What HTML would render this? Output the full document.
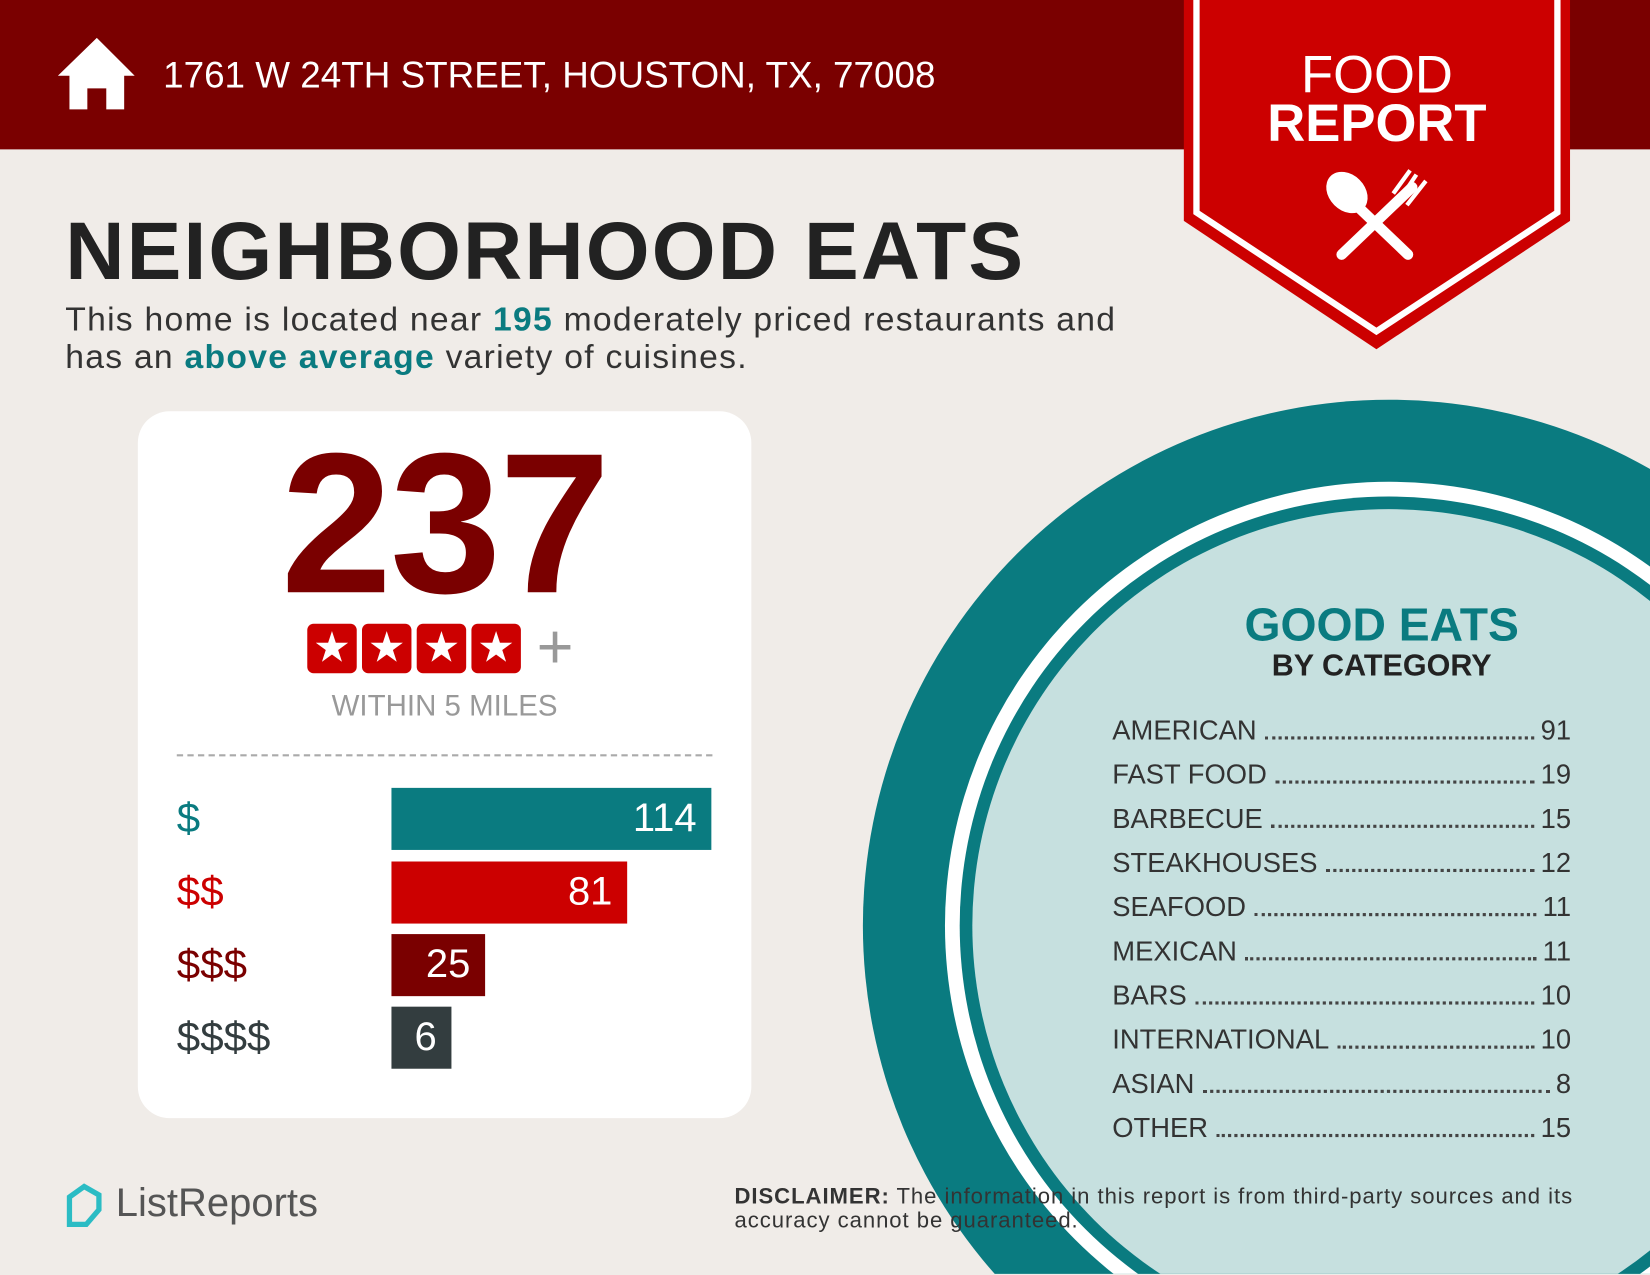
<!DOCTYPE html>
<html><head><meta charset="utf-8">
<style>
html,body{margin:0;padding:0;width:1650px;height:1275px;overflow:hidden;background:#f0ece8;}
#w{position:absolute;left:0;top:0;width:1568px;height:1211px;transform:scale(1.0523,1.0519);transform-origin:0 0;background:#f0ece8;overflow:hidden;font-family:"Liberation Sans",sans-serif;}
.a{position:absolute;}
.row{position:absolute;left:1057px;width:436px;height:30px;display:flex;align-items:flex-end;font-size:26px;color:#333;}
.row .d{flex:1;border-bottom:3px dotted #444;margin:0 6px 7px 8px;}
.bar{position:absolute;left:372px;height:59px;color:#fff;font-size:38px;line-height:59px;text-align:right;box-sizing:border-box;padding-right:14px;}
.lab{position:absolute;left:168px;font-size:40px;line-height:59px;}
.star{display:inline-block;width:47px;height:47px;background:#cc0000;border-radius:6px;margin-right:5px;color:#fff;font-size:40px;line-height:47px;text-align:center;}
</style></head><body><div id="w">
<svg class="a" style="left:0;top:0" width="1568" height="1211" viewBox="0 0 1568 1211">
 <circle cx="1320" cy="880" r="500" fill="#0a7b80"/>
 <circle cx="1320" cy="880" r="422" fill="#fff"/>
 <circle cx="1320" cy="880" r="408" fill="#0a7b80"/>
 <circle cx="1320" cy="880" r="396" fill="#c6e0df"/>
 <rect x="0" y="0" width="1568" height="142" fill="#7a0000"/>
 <polygon points="1125,0 1492,0 1492,210 1308,332 1125,210" fill="#cc0000"/>
 <polyline points="1137,0 1137,202 1308,315 1480,202 1480,0" fill="none" stroke="#fff" stroke-width="6"/>
 <polygon points="55,72 92,36 128,72 118,72 118,104 101,104 101,84 83,84 83,104 66,104 66,72" fill="#fff"/>
 <g stroke="#fff" stroke-width="10" stroke-linecap="round">
  <line x1="1275" y1="242" x2="1342" y2="178"/>
  <line x1="1338" y1="242" x2="1292" y2="198"/>
 </g>
 <ellipse cx="1280" cy="183" rx="17" ry="22" transform="rotate(-45 1280 183)" fill="#fff"/>
 <g stroke="#fff" stroke-width="4"><line x1="1330" y1="190" x2="1346" y2="166"/><line x1="1337" y1="195" x2="1355" y2="172"/><line x1="1324" y1="184" x2="1340" y2="162"/></g>
 <path d="M66 1138 l14 -10 l14 8 l0 14 l-12 14 l-16 0 z" fill="none" stroke="#2bbcc4" stroke-width="5"/>
</svg>
<div class="a" style="left:155px;top:52px;font-size:35px;color:#fff;">1761 W 24TH STREET, HOUSTON, TX, 77008</div>
<div class="a" style="left:1125px;width:367px;top:48px;text-align:center;color:#fff;font-size:50px;line-height:46px;">FOOD<br><b>REPORT</b></div>
<div class="a" style="left:62px;top:193px;font-size:78px;font-weight:bold;color:#222;letter-spacing:2px;">NEIGHBORHOOD EATS</div>
<div class="a" style="left:62px;top:285px;font-size:32px;line-height:36px;color:#333;letter-spacing:1.2px;">This home is located near <b style="color:#0a7b80">195</b> moderately priced restaurants and<br>has an <b style="color:#0a7b80">above average</b> variety of cuisines.</div>
<div class="a" style="left:131px;top:391px;width:583px;height:672px;background:#fff;border-radius:30px;"></div>
<div class="a" style="left:131px;width:583px;top:393px;text-align:center;font-size:190px;font-weight:bold;color:#7a0000;letter-spacing:-2px;line-height:210px;">237</div>
<div class="a" style="left:292px;top:593px;"><span class="star">★</span><span class="star">★</span><span class="star">★</span><span class="star">★</span></div>
<div class="a" style="left:510px;top:580px;font-size:60px;color:#999;">+</div>
<div class="a" style="left:131px;width:583px;top:655px;text-align:center;font-size:28px;color:#999;">WITHIN 5 MILES</div>
<div class="a" style="left:168px;top:717px;width:509px;border-top:2px dashed #aaa;"></div>
<div class="lab" style="top:749px;color:#0a7b80">$</div>
<div class="lab" style="top:819px;color:#cc0000">$$</div>
<div class="lab" style="top:888px;color:#7a0000">$$$</div>
<div class="lab" style="top:957px;color:#333d3f">$$$$</div>
<div class="bar" style="top:749px;width:304px;background:#0a7b80">114</div>
<div class="bar" style="top:819px;width:224px;background:#cc0000">81</div>
<div class="bar" style="top:888px;width:89px;background:#7a0000">25</div>
<div class="bar" style="top:957px;width:57px;background:#333d3f">6</div>
<div class="a" style="left:1113px;width:400px;top:570px;text-align:center;font-size:44px;font-weight:bold;color:#0a7b80;">GOOD EATS</div>
<div class="a" style="left:1113px;width:400px;top:617px;text-align:center;font-size:29px;font-weight:bold;color:#222;">BY CATEGORY</div>
<div class="row" style="top:680px"><span>AMERICAN</span><span class="d"></span><span>91</span></div>
<div class="row" style="top:722px"><span>FAST FOOD</span><span class="d"></span><span>19</span></div>
<div class="row" style="top:764px"><span>BARBECUE</span><span class="d"></span><span>15</span></div>
<div class="row" style="top:806px"><span>STEAKHOUSES</span><span class="d"></span><span>12</span></div>
<div class="row" style="top:848px"><span>SEAFOOD</span><span class="d"></span><span>11</span></div>
<div class="row" style="top:890px"><span>MEXICAN</span><span class="d"></span><span>11</span></div>
<div class="row" style="top:932px"><span>BARS</span><span class="d"></span><span>10</span></div>
<div class="row" style="top:974px"><span>INTERNATIONAL</span><span class="d"></span><span>10</span></div>
<div class="row" style="top:1016px"><span>ASIAN</span><span class="d"></span><span>8</span></div>
<div class="row" style="top:1058px"><span>OTHER</span><span class="d"></span><span>15</span></div>
<div class="a" style="left:110px;top:1123px;font-size:38px;color:#555;">ListReports</div>
<div class="a" style="left:698px;top:1126px;font-size:21px;line-height:23px;color:#333;letter-spacing:0.9px;"><b>DISCLAIMER:</b> The information in this report is from third-party sources and its<br>accuracy cannot be guaranteed.</div>
</div></body></html>
